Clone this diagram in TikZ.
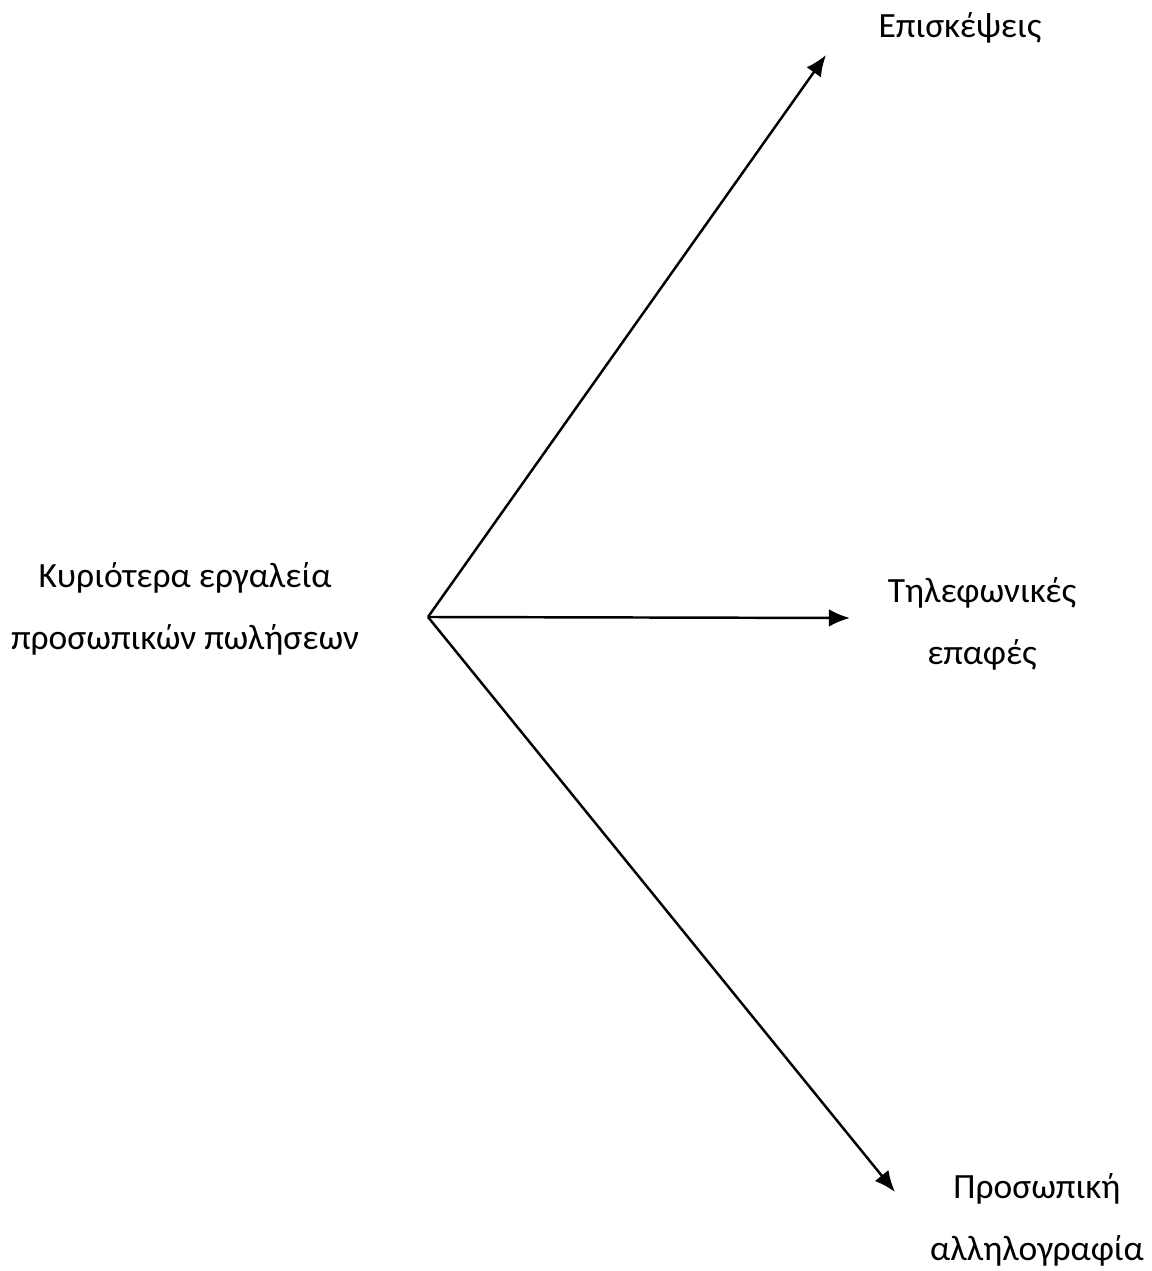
\documentclass[tikz,border=0pt]{standalone}
\usepackage{fontspec}
\setmainfont{Carlito}
\usetikzlibrary{arrows.meta}

\begin{document}
\begin{tikzpicture}
\useasboundingbox (0,0) rectangle (23.02,25.42);
\coordinate (o) at (8.56,13.08);
\coordinate (t1) at (16.52,24.32);
\coordinate (t2) at (17.0,13.06);
\coordinate (t3) at (17.9,1.58);

\begin{scope}[every node/.style={align=center,inner sep=0pt,font=\fontsize{20.2}{35}\selectfont}]
    \node (tools) at (3.7,13.24) {Κυριότερα εργαλεία\\προσωπικών πωλήσεων};
    \node (visits) at (19.2,24.86) {Επισκέψεις};
    \node (phone) at (19.64,12.94) {Τηλεφωνικές\\επαφές};
    \node (mail) at (20.74,1.02) {Προσωπική\\αλληλογραφία};
\end{scope}

\begin{scope}[every edge/.style={draw=black,line width=1.4pt,-{Latex[length=12pt,width=10pt]}}]
    \path (o) edge (t1);
    \path (o) edge (t2);
    \path (o) edge (t3);
\end{scope}
\end{tikzpicture}
\end{document}
